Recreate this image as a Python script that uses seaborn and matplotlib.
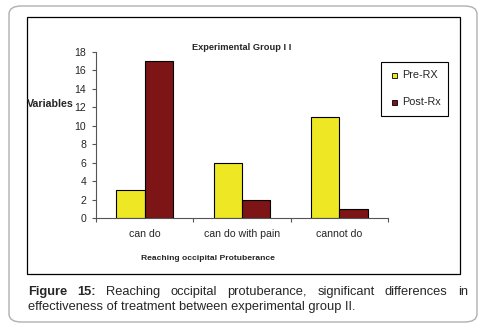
import numpy as np
import matplotlib
matplotlib.use('Agg')
import matplotlib.pyplot as plt
import pandas as pd
import seaborn as sb
from matplotlib.patches import FancyBboxPatch, Rectangle

# Chart data
categories = ["can do", "can do with pain", "cannot do"]
pre_rx = [3, 6, 11]
post_rx = [17, 2, 1]
series_names = ["Pre-RX", "Post-Rx"]
y_ticks = list(range(0, 20, 2))

df = pd.DataFrame({
    "category": categories * 2,
    "value": pre_rx + post_rx,
    "series": [series_names[0]] * 3 + [series_names[1]] * 3,
})

sb.set_style("white")
plt.rcParams['font.family'] = ['Liberation Sans', 'DejaVu Sans']

W, H = 486, 326
fig = plt.figure(figsize=(W / 100, H / 100), dpi=100)

# Outer rounded frame and inner chart box
fig.patches.append(FancyBboxPatch((9 / W, 1 - 322 / H), 468 / W, 316 / H,
                                  boxstyle="round,pad=0,rounding_size=0.025",
                                  transform=fig.transFigure, fill=False,
                                  edgecolor="#b0b0b0", linewidth=1.0))
fig.patches.append(Rectangle((27 / W, 1 - 274 / H), 433 / W, 257 / H,
                             transform=fig.transFigure, fill=False,
                             edgecolor="black", linewidth=0.9))

ax = fig.add_axes([96 / W, 1 - 218 / H, 292 / W, 166 / H])
sb.barplot(data=df, x="category", y="value", hue="series",
           palette=["#EEE824", "#7D1416"], saturation=1, width=0.58, gap=0,
           edgecolor="black", linewidth=0.8, ax=ax, legend=False)

ax.set_xlim(-0.5, 2.5)
ax.set_ylim(0, 18)
ax.set_yticks(y_ticks)
ax.tick_params(axis='y', labelsize=7.6, length=3, width=0.8, color="#555555", pad=4, left=True)
ax.set_xticks(range(3))
ax.set_xticklabels(categories)
ax.tick_params(axis='x', which='major', length=0, labelsize=7.6, pad=8)
ax.set_xticks([-0.5, 0.5, 1.5, 2.5], minor=True)
ax.tick_params(axis='x', which='minor', length=3, width=0.8, color="#555555", bottom=True)
for s in ["top", "right"]:
    ax.spines[s].set_visible(False)
for s in ["left", "bottom"]:
    ax.spines[s].set_color("#555555")
    ax.spines[s].set_linewidth(0.8)
ax.set_xlabel("")
ax.set_ylabel("")

fig.text(242 / W, 1 - 47 / H, "Experimental Group I I", fontsize=6.7, fontweight='bold',
         ha='center', va='center')
fig.text(27 / W, 1 - 104 / H, "Variables", fontsize=7.7, fontweight='bold',
         ha='left', va='center')
fig.text(208 / W, 1 - 258 / H, "Reaching occipital Protuberance", fontsize=6.1,
         fontweight='bold', ha='center', va='center')

# Legend box
fig.patches.append(Rectangle((381 / W, 1 - 116 / H), 67 / W, 54 / H,
                             transform=fig.transFigure, facecolor="white",
                             edgecolor="black", linewidth=0.8))
for i, (name, col) in enumerate(zip(series_names, ["#EEE824", "#7D1416"])):
    yy = 75 + i * 27
    fig.patches.append(Rectangle((392 / W, 1 - (yy + 3) / H), 5 / W, 5 / H,
                                 transform=fig.transFigure, facecolor=col,
                                 edgecolor="black", linewidth=0.6))
    fig.text(402 / W, 1 - yy / H, name, fontsize=7.8, ha='left', va='center')

# Caption, first line justified
fig.canvas.draw()
renderer = fig.canvas.get_renderer()
words = [("Figure", 'bold'), ("15:", 'bold'), ("Reaching", 'normal'), ("occipital", 'normal'),
         ("protuberance,", 'normal'), ("significant", 'normal'), ("differences", 'normal'),
         ("in", 'normal')]
x0, x1 = 28, 468
objs = [fig.text(0, 1 - 292 / H, w, fontsize=9.3, fontweight=wt, ha='left', va='center')
        for w, wt in words]
widths = [o.get_window_extent(renderer).width for o in objs]
gap = (x1 - x0 - sum(widths)) / (len(words) - 1)
xx = x0
for o, w in zip(objs, widths):
    o.set_x(xx / W)
    xx += w + gap
fig.text(x0 / W, 1 - 307 / H, "effectiveness of treatment between experimental group II.",
         fontsize=9.3, ha='left', va='center')

plt.savefig("out.png", dpi=100)
